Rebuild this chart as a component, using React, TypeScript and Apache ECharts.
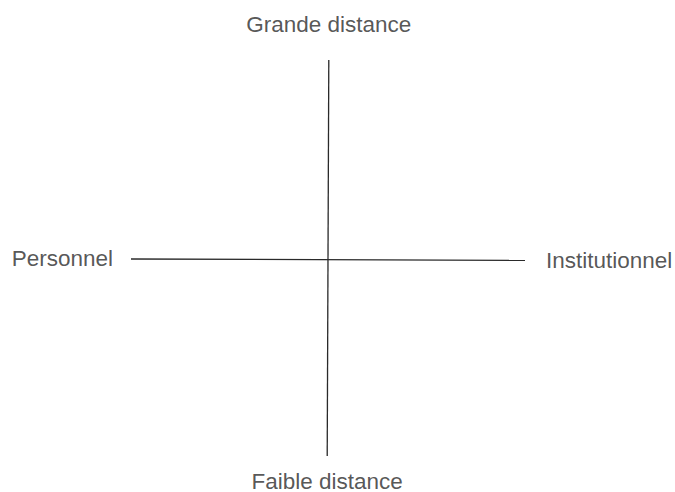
import React, { useEffect, useRef } from "react";
import * as echarts from "echarts";

// Axis endpoints (in abstract diagram units)
const horizontalAxis: [number, number][] = [[-1, -0.005], [1, -0.012]];
const verticalAxis: [number, number][] = [[0.004, 1], [-0.004, -1]];

// Pole labels
const poleNames = ["Grande distance", "Faible distance", "Personnel", "Institutionnel"];
const polePoints: [number, number][] = [[0.004, 1], [-0.004, -1], [-1, -0.005], [1, -0.012]];
const polePositions = ["top", "bottom", "left", "right"];
const poleDistances = [26, 15, 18, 21];

export default function App() {
  const ref = useRef<HTMLDivElement>(null);
  useEffect(() => {
    if (!ref.current) return;
    const chart = echarts.init(ref.current, undefined, { renderer: "svg" });
    const lineColor = "#2a2a2a";
    chart.setOption({
      animation: false,
      backgroundColor: "#ffffff",
      grid: { left: 131, right: 150, top: 60, bottom: 36 },
      xAxis: {
        type: "value", min: -1, max: 1,
        axisLine: { show: false }, axisTick: { show: false },
        axisLabel: { show: false }, splitLine: { show: false },
      },
      yAxis: {
        type: "value", min: -1, max: 1,
        axisLine: { show: false }, axisTick: { show: false },
        axisLabel: { show: false }, splitLine: { show: false },
      },
      series: [
        {
          type: "line", data: horizontalAxis, symbol: "none",
          lineStyle: { color: lineColor, width: 1.3 }, silent: true,
        },
        {
          type: "line", data: verticalAxis, symbol: "none",
          lineStyle: { color: lineColor, width: 1.3 }, silent: true,
        },
        {
          type: "scatter", symbolSize: 0, silent: true,
          data: poleNames.map((name, i) => ({
            name,
            value: polePoints[i],
            label: {
              show: true,
              formatter: name,
              position: polePositions[i],
              distance: poleDistances[i],
              fontFamily: "Liberation Sans, Arial, sans-serif",
              fontSize: 22.5,
              lineHeight: 20,
              color: "#2b2b2b",
            },
          })),
        },
      ],
    });
    return () => chart.dispose();
  }, []);
  return (
    <div
      ref={ref}
      style={{ position: "fixed", left: 0, top: 0, width: 675, height: 492 }}
    />
  );
}
